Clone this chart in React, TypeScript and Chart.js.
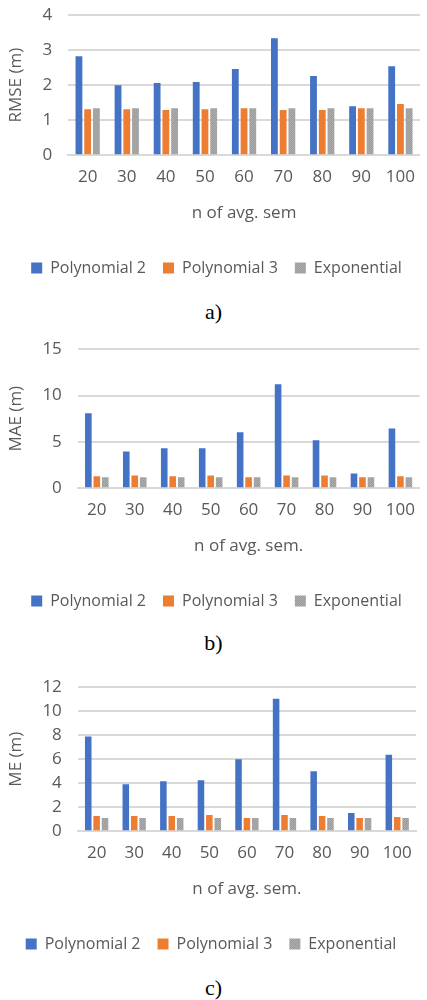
import React, { useEffect, useRef } from "react";
import { Chart, registerables } from "chart.js";
Chart.register(...registerables);

const categories = ["20", "30", "40", "50", "60", "70", "80", "90", "100"];
const seriesNames = ["Polynomial 2", "Polynomial 3", "Exponential"];
const seriesColors = ["#4472c4", "#ed7d31", "#a5a5a5"];

const rmsePoly2 = [2.83, 2.0, 2.06, 2.09, 2.46, 3.34, 2.26, 1.4, 2.54];
const rmsePoly3 = [1.31, 1.31, 1.29, 1.31, 1.34, 1.29, 1.29, 1.34, 1.46];
const rmseExp = [1.34, 1.34, 1.34, 1.34, 1.34, 1.34, 1.34, 1.34, 1.34];

const maePoly2 = [8.09, 3.96, 4.31, 4.31, 6.04, 11.22, 5.18, 1.58, 6.44];
const maePoly3 = [1.29, 1.37, 1.29, 1.37, 1.19, 1.37, 1.37, 1.19, 1.29];
const maeExp = [1.17, 1.17, 1.17, 1.17, 1.17, 1.17, 1.17, 1.17, 1.17];

const mePoly2 = [7.89, 3.92, 4.16, 4.25, 5.99, 11.04, 4.99, 1.52, 6.37];
const mePoly3 = [1.27, 1.27, 1.27, 1.35, 1.1, 1.35, 1.27, 1.1, 1.18];
const meExp = [1.1, 1.1, 1.1, 1.1, 1.1, 1.1, 1.1, 1.1, 1.1];

const FONT = "'Open Sans', 'Noto Sans', sans-serif";
const TEXT = "#595959";
const GRID = "#d9d9d9";

function grayPattern(): CanvasPattern | string {
  const c = document.createElement("canvas");
  c.width = 2;
  c.height = 2;
  const ctx = c.getContext("2d");
  if (!ctx) return seriesColors[2];
  ctx.fillStyle = "#adadad";
  ctx.fillRect(0, 0, 2, 2);
  ctx.fillStyle = "#9b9b9b";
  ctx.fillRect(0, 0, 1, 1);
  ctx.fillRect(1, 1, 1, 1);
  return ctx.createPattern(c, "repeat") || seriesColors[2];
}

type PanelProps = {
  top: number;
  height: number;
  series: number[][];
  yTitle: string;
  xTitle: string;
  yMax: number;
  step: number;
  caption: string;
  captionTop: number;
  padRight: number;
};

function Panel(p: PanelProps) {
  const ref = useRef<HTMLCanvasElement>(null);
  useEffect(() => {
    if (!ref.current) return;
    const pat = grayPattern();
    const chart = new Chart(ref.current, {
      type: "bar",
      data: {
        labels: categories,
        datasets: p.series.map((d, i) => ({
          label: seriesNames[i],
          data: d,
          backgroundColor: i === 2 ? pat : seriesColors[i],
          borderWidth: 0,
          barPercentage: 0.78,
          categoryPercentage: 0.67,
        })),
      },
      options: {
        animation: false,
        responsive: false,
        maintainAspectRatio: false,
        layout: { padding: { top: 4, right: p.padRight, left: 6, bottom: 4 } },
        plugins: {
          tooltip: { enabled: false },
          legend: {
            position: "bottom",
            labels: {
              font: { family: FONT, size: 16 },
              color: TEXT,
              boxWidth: 11,
              boxHeight: 11,
              padding: 17,
            },
          },
        },
        scales: {
          x: {
            grid: { display: false, drawTicks: false },
            border: { display: true, color: GRID, width: 2 },
            ticks: { font: { family: FONT, size: 17 }, color: TEXT, padding: 12 },
            title: {
              display: true,
              text: p.xTitle,
              font: { family: FONT, size: 17 },
              color: TEXT,
              padding: { top: 3, bottom: 20 },
            },
          },
          y: {
            min: 0,
            max: p.yMax,
            grid: { color: GRID, lineWidth: 2, drawTicks: false },
            border: { display: false },
            ticks: {
              stepSize: p.step,
              font: { family: FONT, size: 17 },
              color: TEXT,
              padding: 16,
            },
            title: {
              display: true,
              text: p.yTitle,
              font: { family: FONT, size: 17 },
              color: TEXT,
              padding: { top: 0, bottom: 0 },
            },
          },
        },
      },
    });
    return () => chart.destroy();
  }, []);
  return (
    <>
      <canvas
        ref={ref}
        width={427}
        height={p.height}
        style={{ position: "absolute", left: 0, top: p.top, width: 427, height: p.height }}
      />
      <div
        style={{
          position: "absolute",
          left: 0,
          width: 427,
          top: p.captionTop,
          textAlign: "center",
          fontFamily: "'Liberation Serif', 'Times New Roman', serif",
          fontSize: 22,
          lineHeight: "24px",
          color: "#000",
        }}
      >
        {p.caption}
      </div>
    </>
  );
}

export default function App() {
  return (
    <div style={{ position: "absolute", left: 0, top: 0, width: 427, height: 1000, background: "#fff", overflow: "hidden" }}>
      <Panel
        top={-11}
        height={301}
        series={[rmsePoly2, rmsePoly3, rmseExp]}
        yTitle="RMSE (m)"
        xTitle="n of avg. sem"
        yMax={4}
        step={1}
        caption="a)"
        captionTop={300}
        padRight={0}
      />
      <Panel
        top={323}
        height={300}
        series={[maePoly2, maePoly3, maeExp]}
        yTitle="MAE (m)"
        xTitle="n of avg. sem."
        yMax={15}
        step={5}
        caption="b)"
        captionTop={631}
        padRight={0}
      />
      <Panel
        top={661}
        height={305}
        series={[mePoly2, mePoly3, meExp]}
        yTitle="ME (m)"
        xTitle="n of avg. sem."
        yMax={12}
        step={2}
        caption="c)"
        captionTop={976}
        padRight={11}
      />
    </div>
  );
}
